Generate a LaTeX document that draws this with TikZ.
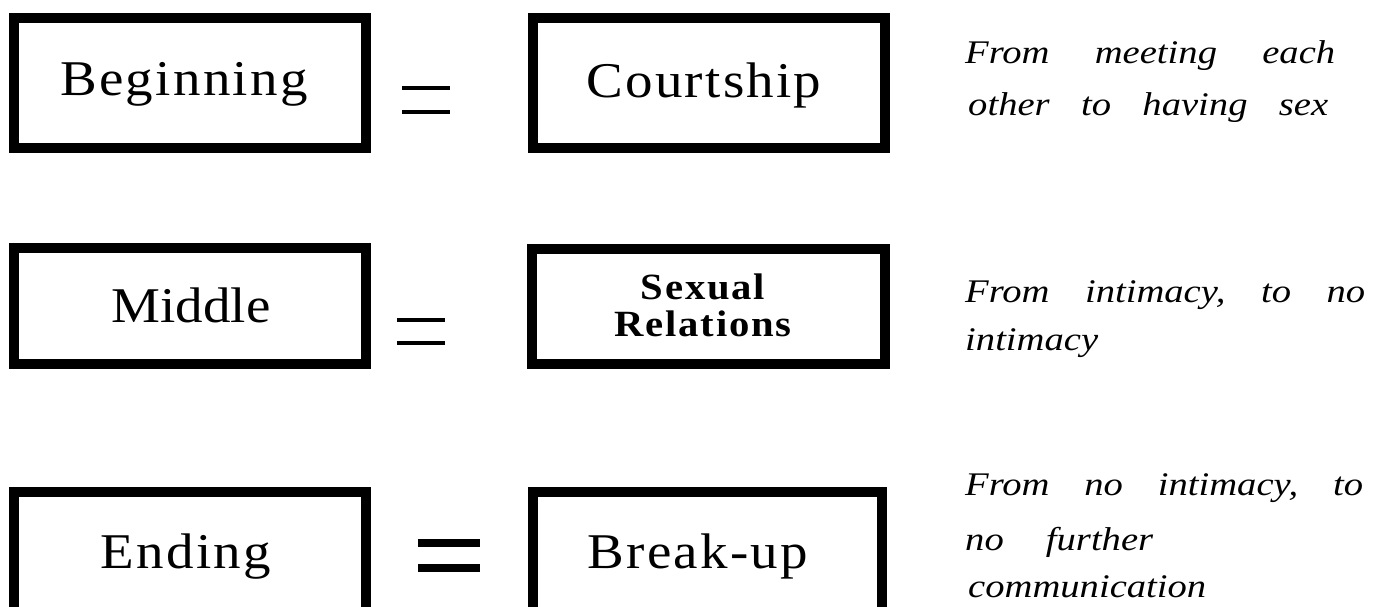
\documentclass[tikz,border=0pt]{standalone}
\usepackage{fontspec}
\setmainfont{Liberation Serif}
\newfontfamily\boxfont[LetterSpace=4.5,FakeStretch=1.1]{Liberation Serif}
\newfontfamily\boxfontm[FakeStretch=1.1]{Liberation Serif}
\newfontfamily\sexfont[LetterSpace=5,FakeStretch=1.1]{Liberation Serif}
\newfontfamily\descfont[FakeStretch=1.17]{Liberation Serif}
\begin{document}
\begin{tikzpicture}[x=1pt,y=-1pt,
  frame/.style={draw=black, line width=10pt, line join=miter, inner sep=0pt, outer sep=0pt},
  boxtext/.style={anchor=base, inner sep=0pt, font=\boxfont\fontsize{50}{58}\selectfont},
  desc/.style={anchor=base west, inner sep=0pt, font=\descfont\fontsize{33}{38}\selectfont\itshape},
  eqthin/.style={line width=3.5pt},
  eqthick/.style={line width=8pt}]
\useasboundingbox (0,0) rectangle (1375,606);
\clip (0,0) rectangle (1375,606);
\fill[white] (0,0) rectangle (1375,606);
% row 1
\node[frame, minimum width=352pt, minimum height=130pt] (beg) at (190,83) {};
\node[boxtext] (begt) at (184,95) {Beginning};
\node[frame, minimum width=352pt, minimum height=130pt] (court) at (709,83) {};
\node[boxtext] (courtt) at (704,97) {Courtship};
\draw[eqthin] (402,88) -- (450,88);
\draw[eqthin] (402,112) -- (450,112);
\node[desc] (d1a) at (965,63) {\makebox[370pt][l]{From\hfill meeting\hfill each}};
\node[desc] (d1b) at (968,115) {\makebox[360pt][l]{other\hfill to\hfill having\hfill sex}};
% row 2
\node[frame, minimum width=352pt, minimum height=116pt] (mid) at (190,306) {};
\node[boxtext, font=\boxfontm\fontsize{50}{58}\selectfont] (midt) at (191,322) {Middle};
\node[frame, minimum width=353pt, minimum height=115pt] (sex) at (708.5,306.5) {};
\node[anchor=base, inner sep=0pt, font=\sexfont\bfseries\fontsize{37}{40}\selectfont] (sext) at (703,299) {Sexual};
\node[anchor=base, inner sep=0pt, font=\sexfont\bfseries\fontsize{37}{40}\selectfont] (sext2) at (703,336) {Relations};
\draw[eqthin] (397,320) -- (445,320);
\draw[eqthin] (397,343) -- (445,343);
\node[desc] (d2a) at (965,302) {\makebox[400pt][l]{From\hfill intimacy,\hfill to\hfill no}};
\node[desc] (d2b) at (965,350) {intimacy};
% row 3
\node[frame, minimum width=352pt, minimum height=130pt] (end) at (190,557) {};
\node[boxtext] (endt) at (186,568) {Ending};
\node[frame, minimum width=349pt, minimum height=130pt] (brk) at (707.5,557) {};
\node[boxtext] (brkt) at (698,568) {Break-up};
\draw[eqthick] (418,543) -- (480,543);
\draw[eqthick] (418,568) -- (480,568);
\node[desc] (d3a) at (965,495) {\makebox[398pt][l]{From\hfill no\hfill intimacy,\hfill to}};
\node[desc] (d3b) at (965,550) {\makebox[188pt][l]{no\hfill further}};
\node[desc] (d3c) at (968,597) {communication};
\end{tikzpicture}
\end{document}
